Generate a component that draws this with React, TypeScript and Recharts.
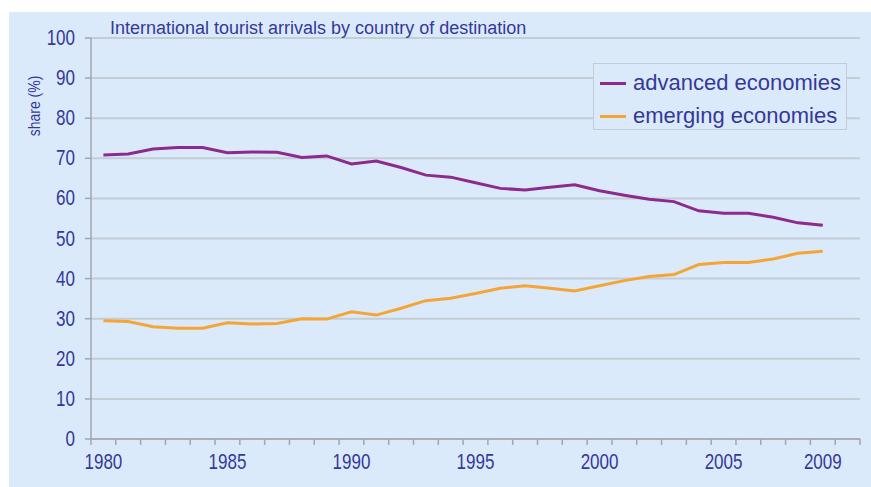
import React from "react";
import { LineChart, Line, XAxis, YAxis, CartesianGrid, Legend } from "recharts";

const years = [
  1980, 1981, 1982, 1983, 1984, 1985, 1986, 1987, 1988, 1989,
  1990, 1991, 1992, 1993, 1994, 1995, 1996, 1997, 1998, 1999,
  2000, 2001, 2002, 2003, 2004, 2005, 2006, 2007, 2008, 2009, 2010,
];
const advanced = [
  70.8, 71.1, 72.3, 72.7, 72.7, 71.4, 71.6, 71.5, 70.2, 70.6,
  68.6, 69.3, 67.7, 65.8, 65.3, 63.9, 62.5, 62.1, 62.8, 63.4,
  61.9, 60.8, 59.8, 59.2, 56.9, 56.3, 56.3, 55.3, 53.9, 53.3, null,
];
const emerging = [
  29.5, 29.3, 28.0, 27.6, 27.6, 29.0, 28.7, 28.8, 30.0, 29.9,
  31.7, 30.9, 32.6, 34.5, 35.1, 36.3, 37.6, 38.2, 37.6, 36.9,
  38.2, 39.5, 40.5, 41.0, 43.5, 44.0, 44.0, 44.9, 46.3, 46.8, null,
];
const xLabels = [1980, 1985, 1990, 1995, 2000, 2005, 2009];
const yTicks = [0, 10, 20, 30, 40, 50, 60, 70, 80, 90, 100];
const seriesNames = ["advanced economies", "emerging economies"];
const title = "International tourist arrivals by country of destination";
const yTitle = "share (%)";

const data = years.map((y, i) => ({ year: y, advanced: advanced[i], emerging: emerging[i] }));

const W = 871;
const H = 487;
const PLOT_LEFT = 91;
const PLOT_RIGHT = 860;
const PLOT_TOP = 38;
const PLOT_BOTTOM = 439;
const HALF_BAND = (PLOT_RIGHT - PLOT_LEFT) / years.length / 2;

const TEXT = "#35389a";
const PURPLE = "#8c2a8f";
const ORANGE = "#f5a535";
const BG = "#dbeafb";
const GRID = "#c4ccd6";
const AXIS = "#a2a6ad";
const FONT = "'Liberation Sans', Arial, sans-serif";

const XTick = (props: any) => {
  const { x, y, payload } = props;
  const v = payload.value;
  const last = v === years[years.length - 1];
  return (
    <g>
      <line x1={x - HALF_BAND} x2={x - HALF_BAND} y1={y} y2={y + 6} stroke={AXIS} strokeWidth={1.5} />
      {last && <line x1={x + HALF_BAND} x2={x + HALF_BAND} y1={y} y2={y + 6} stroke={AXIS} strokeWidth={1.5} />}
      {xLabels.includes(v) && (
        <text
          transform={`translate(${x},${y + 30}) scale(1,1.25)`}
          textAnchor="middle"
          fill={TEXT}
          fontSize={17}
          fontFamily={FONT}
        >
          {v}
        </text>
      )}
    </g>
  );
};

const YTick = (props: any) => {
  const { x, y, payload } = props;
  return (
    <text
      transform={`translate(${x},${y + 7}) scale(1,1.25)`}
      textAnchor="end"
      fill={TEXT}
      fontSize={17}
      fontFamily={FONT}
    >
      {payload.value}
    </text>
  );
};

const LegendBox = () => {
  const colors = [PURPLE, ORANGE];
  return (
    <div
      style={{
        width: 254,
        height: 67,
        boxSizing: "border-box",
        border: "1px solid #c6cbd4",
        background: BG,
        position: "relative",
      }}
    >
      {seriesNames.map((n, i) => (
        <div
          key={n}
          style={{
            position: "absolute",
            left: 6,
            top: 6 + i * 33,
            height: 26,
            display: "flex",
            alignItems: "center",
            whiteSpace: "nowrap",
          }}
        >
          <div style={{ width: 26, height: 3, background: colors[i], marginRight: 7 }} />
          <span style={{ fontSize: 22, fontFamily: FONT, color: TEXT, lineHeight: "26px" }}>{n}</span>
        </div>
      ))}
    </div>
  );
};

export default function App() {
  return (
    <div style={{ position: "absolute", left: 0, top: 0, width: W, height: H, background: "#ffffff", overflow: "hidden" }}>
      <div style={{ position: "absolute", left: 9, top: 12, width: W - 9, height: H - 12, background: BG }} />
      <div style={{ position: "absolute", left: 0, top: 0 }}>
        <LineChart
          width={W}
          height={H}
          data={data}
          margin={{ left: PLOT_LEFT - 60, right: W - PLOT_RIGHT, top: PLOT_TOP, bottom: H - PLOT_BOTTOM - 30 }}
        >
          <CartesianGrid horizontal vertical={false} stroke={GRID} strokeWidth={2} />
          <XAxis
            dataKey="year"
            type="number"
            domain={[years[0] - 0.5, years[years.length - 1] + 0.5]}
            ticks={years}
            interval={0}
            height={30}
            tickSize={0}
            tickMargin={0}
            tickLine={false}
            axisLine={{ stroke: AXIS, strokeWidth: 1.5 }}
            tick={<XTick />}
          />
          <YAxis
            width={60}
            domain={[0, 100]}
            ticks={yTicks}
            interval={0}
            tickSize={6}
            tickMargin={10}
            tickLine={{ stroke: AXIS, strokeWidth: 1.5 }}
            axisLine={{ stroke: AXIS, strokeWidth: 1.5 }}
            tick={<YTick />}
            label={{
              content: () => (
                <text
                  x={0}
                  y={0}
                  transform="translate(40,106) rotate(-90) scale(1,1.15)"
                  textAnchor="middle"
                  fill={TEXT}
                  fontSize={14}
                  fontFamily={FONT}
                >
                  {yTitle}
                </text>
              ),
            }}
          />
          <Legend
            layout="vertical"
            align="center"
            verticalAlign="middle"
            content={<LegendBox />}
            wrapperStyle={{ position: "absolute", left: 593, top: 63, width: 254, height: 67 }}
          />
          <Line
            type="linear"
            dataKey="advanced"
            name={seriesNames[0]}
            stroke={PURPLE}
            strokeWidth={3}
            dot={false}
            isAnimationActive={false}
          />
          <Line
            type="linear"
            dataKey="emerging"
            name={seriesNames[1]}
            stroke={ORANGE}
            strokeWidth={3}
            dot={false}
            isAnimationActive={false}
          />
        </LineChart>
      </div>
      <div
        style={{
          position: "absolute",
          left: 110,
          top: 19,
          fontSize: 18,
          lineHeight: "18px",
          fontFamily: FONT,
          color: TEXT,
          whiteSpace: "nowrap",
        }}
      >
        {title}
      </div>
    </div>
  );
}
